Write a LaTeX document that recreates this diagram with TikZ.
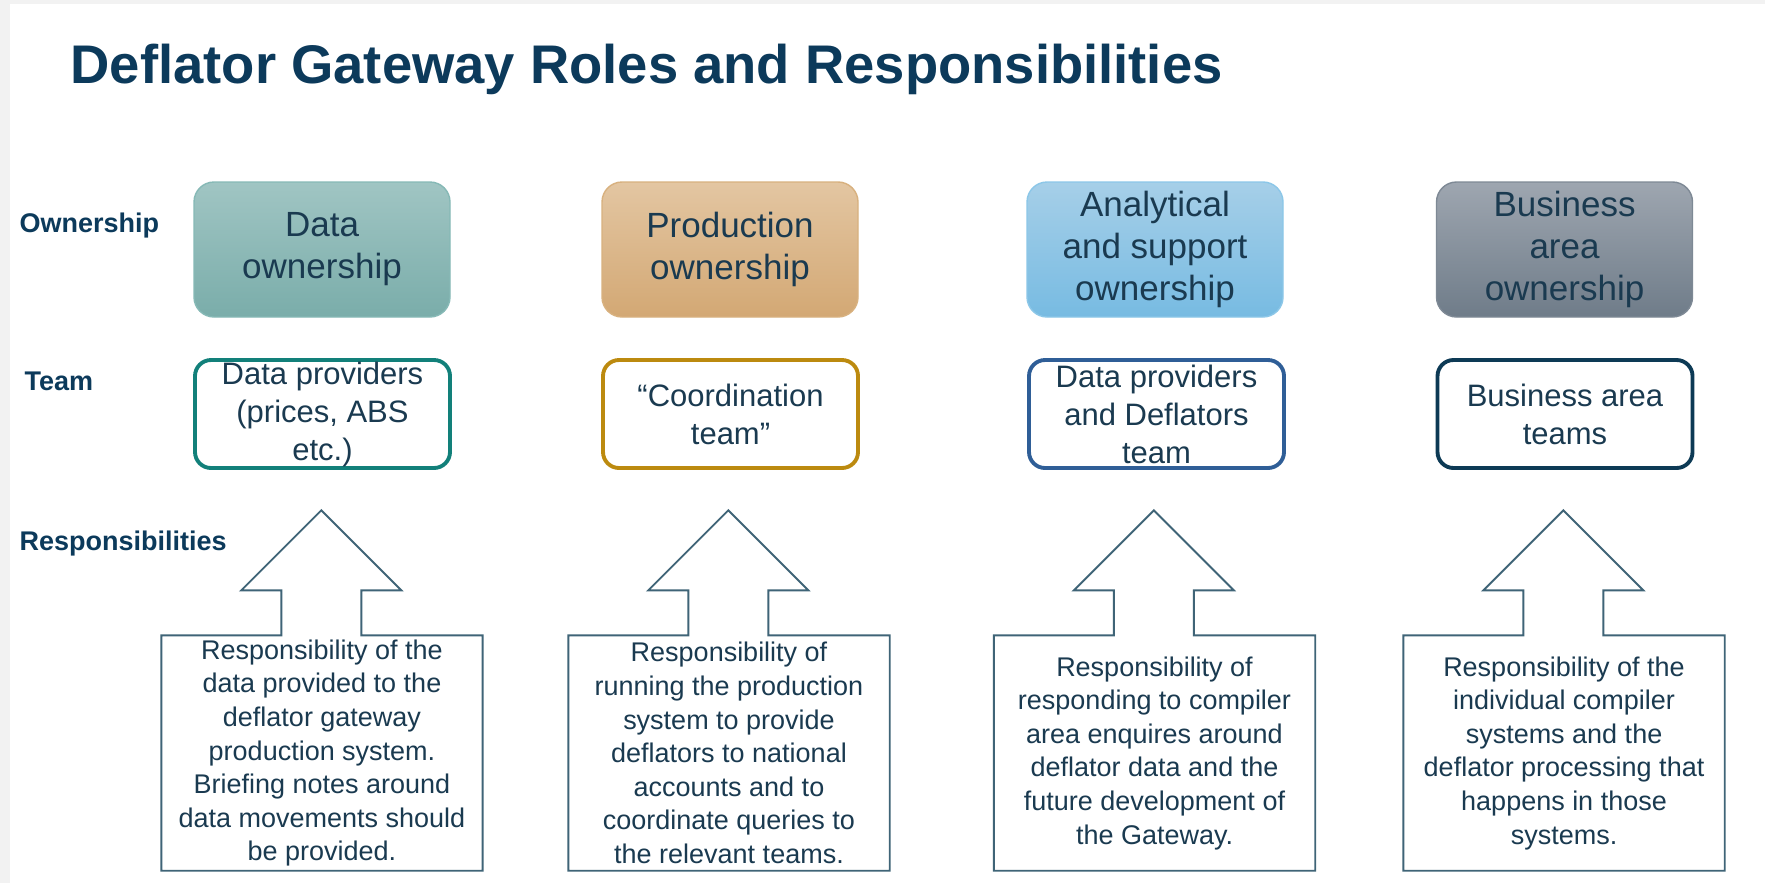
\documentclass[tikz,border=0pt]{standalone}
\usepackage{fontspec}
\setmainfont{Liberation Sans}
\usetikzlibrary{positioning}

\definecolor{pagegray}{HTML}{F2F2F2}
\definecolor{navy}{HTML}{0C3A5B}
\definecolor{inktext}{HTML}{1A3A50}
\definecolor{tealtop}{HTML}{A0C5C3}
\definecolor{tealbot}{HTML}{7AADAA}
\definecolor{tealedge}{HTML}{86B9B6}
\definecolor{tantop}{HTML}{E3C6A2}
\definecolor{tanbot}{HTML}{D3A874}
\definecolor{tanedge}{HTML}{D8B17F}
\definecolor{bluetop}{HTML}{A6CFE8}
\definecolor{bluebot}{HTML}{77BBE2}
\definecolor{blueedge}{HTML}{8CC7E8}
\definecolor{greytop}{HTML}{9EA6B0}
\definecolor{greybot}{HTML}{6F7C89}
\definecolor{greyedge}{HTML}{7E8995}
\definecolor{teamteal}{HTML}{12807A}
\definecolor{teamgold}{HTML}{BC8A0F}
\definecolor{teamblue}{HTML}{2F5E97}
\definecolor{teamnavy}{HTML}{0D3A55}
\definecolor{calloutline}{HTML}{3F6477}

\begin{document}
\begin{tikzpicture}[
    ownbox/.style={rectangle, rounded corners=2mm, line width=0.4pt,
      minimum width=2.56cm, minimum height=1.35cm, inner sep=0pt,
      align=center, text=inktext, font=\fontsize{9.96}{11.95}\selectfont},
    teambox/.style={rectangle, rounded corners=1.6mm, line width=1.1pt, fill=white,
      minimum width=2.55cm, minimum height=1.08cm, inner sep=0pt,
      align=center, text=inktext, font=\fontsize{8.82}{10.81}\selectfont},
    respbox/.style={rectangle, minimum width=3.2cm, minimum height=2.34cm, inner sep=0pt,
      align=center, text=inktext, font=\fontsize{7.68}{9.56}\selectfont},
    rowlabel/.style={anchor=base west, inner sep=0pt, text=navy,
      font=\bfseries\fontsize{7.68}{9}\selectfont},
  ]

      % slide
      \useasboundingbox (0,0) rectangle (17.65,-8.83);
      \fill[pagegray] (0,0) rectangle (17.65,-8.83);
      \fill[white] (0.10,-0.04) rectangle (17.65,-8.83);

      \node[anchor=base west, inner sep=0pt, text=navy,
        font=\bfseries\fontsize{15.48}{18}\selectfont] (title) at (0.70,-0.835)
        {Deflator Gateway Roles and Responsibilities};

      \begin{scope}[every node/.style={rowlabel}]
        \node (lblown)  at (0.19,-2.32) {Ownership};
        \node (lblteam) at (0.24,-3.90) {Team};
        \node (lblresp) at (0.19,-5.50) {Responsibilities};
      \end{scope}


      \begin{scope}[every node/.style={ownbox}]
        \node[draw=tealedge, top color=tealtop, bottom color=tealbot] (own1) at (3.22,-2.495) {Data\\ownership};
        \node[draw=tanedge, top color=tantop, bottom color=tanbot] (own2) at (7.30,-2.495) {Production\\ownership};
        \node[draw=blueedge, top color=bluetop, bottom color=bluebot] (own3) at (11.55,-2.495) {Analytical\\and support\\ownership};
        \node[draw=greyedge, top color=greytop, bottom color=greybot] (own4) at (15.645,-2.495) {Business\\area\\ownership};
      \end{scope}


      \begin{scope}[every node/.style={teambox}]
        \node[draw=teamteal] (team1) at (3.225,-4.14) {Data providers\\(prices, ABS\\etc.)};
        \node[draw=teamgold] (team2) at (7.305,-4.14) {“Coordination\\team”};
        \node[draw=teamblue] (team3) at (11.565,-4.14) {Data providers\\and Deflators\\team};
        \node[draw=teamnavy] (team4) at (15.65,-4.14) {Business area\\teams};
      \end{scope}


      \begin{scope}[every node/.style={respbox}]
        \node (resp1) at (3.22,-7.53) {Responsibility of the\\data provided to the\\deflator gateway\\production system.\\Briefing notes around\\data movements should\\be provided.};
        \node (resp2) at (7.29,-7.53) {Responsibility of\\running the production\\system to provide\\deflators to national\\accounts and to\\coordinate queries to\\the relevant teams.};
        \node (resp3) at (11.545,-7.53) {Responsibility of\\responding to compiler\\area enquires around\\deflator data and the\\future development of\\the Gateway.};
        \node (resp4) at (15.64,-7.53) {Responsibility of the\\individual compiler\\systems and the\\deflator processing that\\happens in those\\systems.};
      \end{scope}


      % up arrow callouts round the responsibility texts
      \begin{scope}[draw=calloutline, line width=0.55pt]
        \draw (resp1.north west) -- ++(1.2,0) -- ++(0,0.45) -- ++(-0.4,0) -- ++(0.8,0.8) -- ++(0.8,-0.8) -- ++(-0.4,0) -- ++(0,-0.45) -- (resp1.north east) -- (resp1.south east) -- (resp1.south west) -- cycle;
        \draw (resp2.north west) -- ++(1.2,0) -- ++(0,0.45) -- ++(-0.4,0) -- ++(0.8,0.8) -- ++(0.8,-0.8) -- ++(-0.4,0) -- ++(0,-0.45) -- (resp2.north east) -- (resp2.south east) -- (resp2.south west) -- cycle;
        \draw (resp3.north west) -- ++(1.2,0) -- ++(0,0.45) -- ++(-0.4,0) -- ++(0.8,0.8) -- ++(0.8,-0.8) -- ++(-0.4,0) -- ++(0,-0.45) -- (resp3.north east) -- (resp3.south east) -- (resp3.south west) -- cycle;
        \draw (resp4.north west) -- ++(1.2,0) -- ++(0,0.45) -- ++(-0.4,0) -- ++(0.8,0.8) -- ++(0.8,-0.8) -- ++(-0.4,0) -- ++(0,-0.45) -- (resp4.north east) -- (resp4.south east) -- (resp4.south west) -- cycle;
      \end{scope}

    \end{tikzpicture}
\end{document}
